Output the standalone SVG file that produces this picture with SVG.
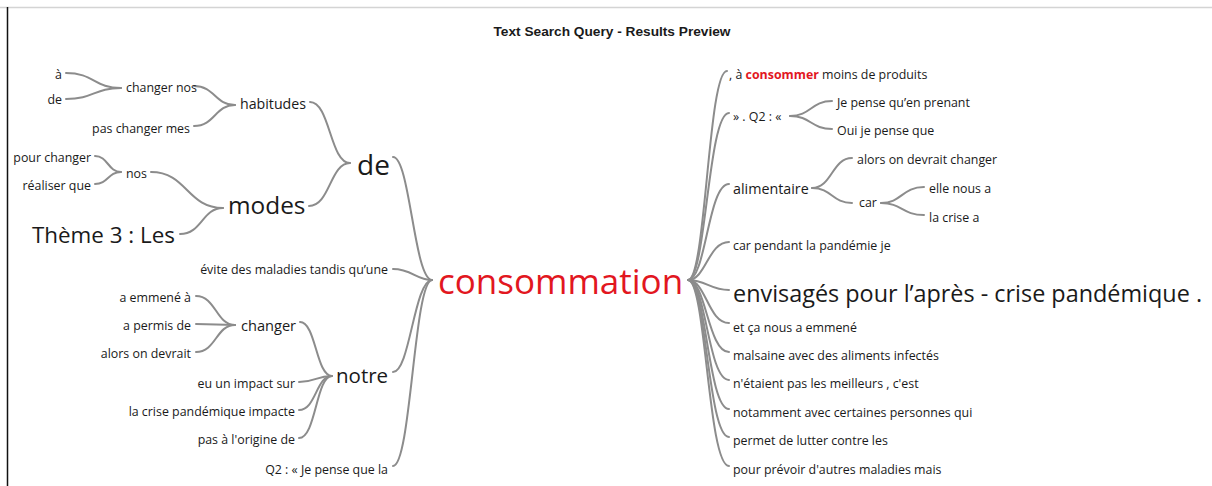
<svg xmlns="http://www.w3.org/2000/svg" width="1212" height="486" viewBox="0 0 1212 486">
<style>
text{font-family:"Open Sans","Noto Sans","DejaVu Sans",sans-serif;fill:#1a1a1a;}
.s{font-size:12.4px;}
.e{text-anchor:end;}
.c{fill:none;stroke:#8c8c8c;stroke-width:2;stroke-linecap:round;}
.red{fill:#e2171f;}
</style>
<rect width="1212" height="486" fill="#fff"/>
<line x1="0" y1="7.5" x2="1212" y2="7.5" stroke="#d4d4d4" stroke-width="1.5"/>
<line x1="7.5" y1="7" x2="7.5" y2="486" stroke="#111" stroke-width="1.5"/>
<text x="612" y="36" text-anchor="middle" font-weight="bold" font-size="13" textLength="237" lengthAdjust="spacingAndGlyphs" style="font-family:'Liberation Sans',sans-serif">Text Search Query - Results Preview</text>

<g id="connectors">
<path class="c" d="M393,157 C410,157 414,279 432,280"/>
<path class="c" d="M393,269 C412,269 416,280 432,280"/>
<path class="c" d="M393,372 C410,372 414,281 432,280"/>
<path class="c" d="M393,466 C411,466 414,281 432,280"/>
<path class="c" d="M66,73 C94,73 94,88 121,88"/>
<path class="c" d="M66,99 C94,99 94,88 121,88"/>
<path class="c" d="M194,86 C215,86 215,105 235,105"/>
<path class="c" d="M194,126 C215,126 215,105 235,105"/>
<path class="c" d="M95,156 C108,156 108,172 121,172"/>
<path class="c" d="M95,184 C108,184 108,172 121,172"/>
<path class="c" d="M151,172 C187,172 187,208 223,208"/>
<path class="c" d="M180,234 C202,234 202,208 223,208"/>
<path class="c" d="M310,102 C330,102 330,163 350,163"/>
<path class="c" d="M309,206 C330,206 330,163 350,163"/>
<path class="c" d="M196,296 C216,296 216,325 235,325"/>
<path class="c" d="M196,324 C216,324 216,325 235,325"/>
<path class="c" d="M196,352 C216,352 216,325 235,325"/>
<path class="c" d="M300,322 C316,322 316,376 332,376"/>
<path class="c" d="M299,382 C316,382 316,376 332,376"/>
<path class="c" d="M299,410 C316,410 316,376 332,376"/>
<path class="c" d="M299,438 C316,438 316,376 332,376"/>
<path class="c" d="M688,280 C706,280 708,71 727,71"/>
<path class="c" d="M688,280 C706,280 708,113 729,113"/>
<path class="c" d="M688,280 C706,280 708,184 729,184"/>
<path class="c" d="M688,280 C706,280 708,242 729,242"/>
<path class="c" d="M688,280 C706,280 710,290 729,290"/>
<path class="c" d="M688,280 C706,280 708,323 729,323"/>
<path class="c" d="M688,280 C706,280 708,352 729,352"/>
<path class="c" d="M688,280 C706,280 708,380 729,380"/>
<path class="c" d="M688,280 C706,280 708,409 729,409"/>
<path class="c" d="M688,280 C706,280 708,437 729,437"/>
<path class="c" d="M688,280 C706,280 708,466 729,466"/>
<path class="c" d="M790,116 C811,116 811,101 832,101"/>
<path class="c" d="M790,116 C811,116 811,129 832,129"/>
<path class="c" d="M812,188 C832,188 832,158 852,158"/>
<path class="c" d="M812,188 C832,188 832,203 852,203"/>
<path class="c" d="M881,203 C902,203 902,187 924,187"/>
<path class="c" d="M881,203 C902,203 902,215 924,215"/>
</g>

<g id="n-consommation"><text x="438" y="294" font-size="35" class="red">consommation</text></g>
<g id="n-de"><text x="357" y="175" font-size="28">de</text></g>
<g id="n-habitudes"><text x="240" y="109" font-size="14.2">habitudes</text></g>
<g id="n-changer-nos"><text x="126" y="92" class="s">changer nos</text></g>
<g id="n-a"><text x="62" y="79" class="s e">à</text></g>
<g id="n-de2"><text x="62" y="104" class="s e">de</text></g>
<g id="n-pas-changer-mes"><text x="190" y="133" class="s e">pas changer mes</text></g>
<g id="n-modes"><text x="228" y="214" font-size="24.4">modes</text></g>
<g id="n-nos"><text x="126" y="178" class="s">nos</text></g>
<g id="n-pour-changer"><text x="91" y="162" class="s e">pour changer</text></g>
<g id="n-realiser-que"><text x="91" y="190" class="s e">réaliser que</text></g>
<g id="n-theme"><text x="175" y="243" font-size="22.4" class="e">Thème 3 : Les</text></g>
<g id="n-evite"><text x="388" y="274" class="s e">évite des maladies tandis qu’une</text></g>
<g id="n-notre"><text x="336" y="383" font-size="20.5">notre</text></g>
<g id="n-changer"><text x="241" y="331" font-size="14.6">changer</text></g>
<g id="n-a-emmene"><text x="191" y="302" class="s e">a emmené à</text></g>
<g id="n-a-permis"><text x="191" y="330" class="s e">a permis de</text></g>
<g id="n-alors"><text x="191" y="358" class="s e">alors on devrait</text></g>
<g id="n-eu"><text x="295" y="388" class="s e">eu un impact sur</text></g>
<g id="n-la-crise"><text x="295" y="416" class="s e">la crise pandémique impacte</text></g>
<g id="n-pas-a"><text x="295" y="444" class="s e">pas à l'origine de</text></g>
<g id="n-q2-left"><text x="388" y="474" class="s e">Q2 : « Je pense que la</text></g>

<g id="n-consommer"><text x="729" y="79" class="s">, à <tspan class="red" font-weight="bold">consommer</tspan> moins de produits</text></g>
<g id="n-q2-right"><text x="733" y="121" class="s">» . Q2 : «</text></g>
<g id="n-je-pense"><text x="837" y="107" class="s">Je pense qu’en prenant</text></g>
<g id="n-oui"><text x="837" y="135" class="s">Oui je pense que</text></g>
<g id="n-alimentaire"><text x="733" y="194" font-size="14.3">alimentaire</text></g>
<g id="n-alors-changer"><text x="857" y="164" class="s">alors on devrait changer</text></g>
<g id="n-car"><text x="859" y="207" class="s">car</text></g>
<g id="n-elle"><text x="929" y="193" class="s">elle nous a</text></g>
<g id="n-la-crise-a"><text x="929" y="222" class="s">la crise a</text></g>
<g id="n-car-pendant"><text x="733" y="250" class="s">car pendant la pandémie je</text></g>
<g id="n-envisages"><text x="733" y="302" font-size="23.4">envisagés pour l’après - crise pandémique .</text></g>
<g id="n-et-ca"><text x="733" y="332" class="s">et ça nous a emmené</text></g>
<g id="n-malsaine"><text x="733" y="360" class="s">malsaine avec des aliments infectés</text></g>
<g id="n-netaient"><text x="733" y="388" class="s">n'étaient pas les meilleurs , c'est</text></g>
<g id="n-notamment"><text x="733" y="417" class="s">notamment avec certaines personnes qui</text></g>
<g id="n-permet"><text x="733" y="445" class="s">permet de lutter contre les</text></g>
<g id="n-pour-prevoir"><text x="733" y="474" class="s">pour prévoir d'autres maladies mais</text></g>
</svg>
